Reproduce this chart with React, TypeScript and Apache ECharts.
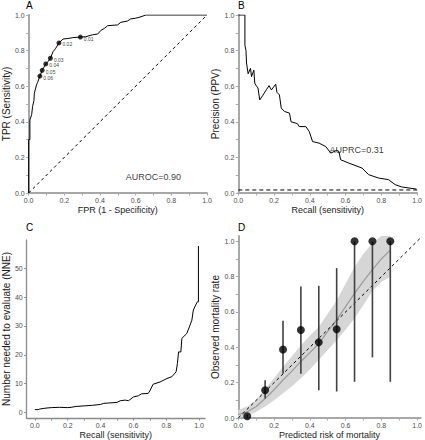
import React, { useEffect, useRef } from "react";
import * as echarts from "echarts";

// Panel A: ROC curve
const rocFpr = [0, 0, 0.007, 0.007, 0.017, 0.022, 0.03, 0.032, 0.044, 0.05, 0.063, 0.076, 0.096, 0.11, 0.122, 0.137, 0.15, 0.17, 0.193, 0.22, 0.248, 0.29, 0.32, 0.359, 0.387, 0.406, 0.425, 0.443, 0.498, 0.517, 0.554, 0.572, 0.6, 0.63, 0.657, 1];
const rocTpr = [0, 0.3, 0.3, 0.41, 0.44, 0.485, 0.52, 0.56, 0.607, 0.62, 0.657, 0.689, 0.725, 0.74, 0.757, 0.794, 0.81, 0.843, 0.865, 0.868, 0.873, 0.876, 0.878, 0.889, 0.893, 0.914, 0.925, 0.94, 0.944, 0.959, 0.966, 0.978, 0.982, 0.99, 1.0, 1.0];
const thrFpr = [0.063, 0.076, 0.096, 0.122, 0.17, 0.29];
const thrTpr = [0.657, 0.689, 0.725, 0.757, 0.843, 0.876];
const thrLabels = ["0.06", "0.05", "0.04", "0.03", "0.02", "0.01"];
const aurocText = "AUROC=0.90";

// Panel B: precision-recall curve
const prRecall = [0, 0.037, 0.037, 0.043, 0.046, 0.055, 0.068, 0.074, 0.087, 0.092, 0.102, 0.11, 0.12, 0.138, 0.157, 0.172, 0.185, 0.209, 0.216, 0.23, 0.24, 0.258, 0.286, 0.295, 0.33, 0.341, 0.378, 0.397, 0.415, 0.452, 0.489, 0.517, 0.55, 0.563, 0.572, 0.618, 0.692, 0.729, 0.784, 0.84, 0.877, 0.913, 0.996];
const prPrecision = [1, 1, 0.83, 0.8, 0.73, 0.67, 0.7, 0.654, 0.69, 0.617, 0.6, 0.59, 0.523, 0.55, 0.58, 0.603, 0.579, 0.611, 0.566, 0.551, 0.477, 0.458, 0.449, 0.4, 0.39, 0.373, 0.373, 0.345, 0.289, 0.28, 0.261, 0.224, 0.24, 0.233, 0.187, 0.168, 0.14, 0.103, 0.084, 0.075, 0.047, 0.034, 0.022];
const prevalence = 0.017;
const auprcText = "AUPRC=0.31";

// Panel C: number needed to evaluate
const nneRecall = [0, 0.02, 0.03, 0.05, 0.08, 0.1, 0.15, 0.2, 0.22, 0.25, 0.3, 0.35, 0.4, 0.42, 0.45, 0.5, 0.52, 0.55, 0.57, 0.6, 0.63, 0.65, 0.69, 0.7, 0.72, 0.763, 0.804, 0.834, 0.86, 0.868, 0.875, 0.889, 0.895, 0.925, 0.941, 0.956, 0.965, 0.976, 0.99, 0.996, 0.996];
const nneValue = [1, 1, 1.2, 1.4, 1.6, 1.7, 1.8, 1.7, 1.8, 2.1, 2.3, 2.5, 2.8, 3.2, 3.3, 3.5, 4.1, 4.3, 4.1, 5.4, 5.8, 6.5, 6.6, 7.5, 9.8, 10.6, 11.8, 12.4, 14.1, 17, 21, 21, 25.7, 27.4, 29.7, 32, 35.5, 36.9, 38.4, 38.4, 57.7];

// Panel D: calibration
const binMid = [0.05, 0.15, 0.25, 0.35, 0.45, 0.55, 0.65, 0.75, 0.85];
const binObs = [0.01, 0.157, 0.388, 0.498, 0.428, 0.502, 1.0, 1.0, 1.0];
const binLow = [0.0, 0.11, 0.25, 0.25, 0.157, 0.15, 0.205, 0.343, 0.205];
const binHigh = [0.02, 0.214, 0.551, 0.744, 0.748, 0.848, 1.0, 1.0, 1.0];
const smoothX = [0, 0.05, 0.1, 0.15, 0.2, 0.25, 0.3, 0.35, 0.4, 0.45, 0.5, 0.55, 0.6, 0.65, 0.7, 0.75, 0.8, 0.85];
const smoothFit = [0.02, 0.035, 0.065, 0.11, 0.16, 0.215, 0.265, 0.32, 0.37, 0.42, 0.49, 0.555, 0.63, 0.705, 0.775, 0.84, 0.9, 0.95];
const smoothLow = [0, 0.012, 0.035, 0.065, 0.1, 0.14, 0.18, 0.225, 0.275, 0.33, 0.385, 0.44, 0.5, 0.565, 0.64, 0.72, 0.77, 0.8];
const smoothHigh = [0.045, 0.065, 0.1, 0.165, 0.225, 0.29, 0.35, 0.41, 0.465, 0.515, 0.59, 0.665, 0.76, 0.855, 0.93, 0.99, 1.03, 1.06];

const unitTicks = [0, 0.1, 0.2, 0.3, 0.4, 0.5, 0.6, 0.7, 0.8, 0.9, 1.0];
const unitLabels = [0, 0.2, 0.4, 0.6, 0.8, 1.0];
const nneTicks = [0, 10, 20, 30, 40, 50];

const FONT = "Liberation Sans, Arial, sans-serif";
const TICK_COLOR = "#4d4d4d";

function zipXY(xs: number[], ys: number[]) {
  return xs.map((x, i) => [x, ys[i]]);
}

function axis(opts: any) {
  const { grid, min, max, name, nameGap, ticks, labels, fmt, lineColor, lineWidth, nameSize } = opts;
  return {
    type: "value",
    gridIndex: grid,
    min,
    max,
    name,
    nameLocation: "middle",
    nameGap,
    nameTextStyle: { fontFamily: FONT, fontSize: nameSize, color: "#1a1a1a" },
    splitLine: { show: false },
    axisLine: { show: true, onZero: false, lineStyle: { color: lineColor, width: lineWidth } },
    axisTick: {
      show: true,
      length: 2.5,
      customValues: ticks,
      lineStyle: { color: lineColor, width: 1 },
    },
    axisLabel: {
      customValues: labels,
      fontFamily: FONT,
      fontSize: 7,
      color: TICK_COLOR,
      margin: 4,
      formatter: fmt,
    },
  };
}

export default function App() {
  const ref = useRef<HTMLDivElement>(null);
  useEffect(() => {
    if (!ref.current) return;
    const chart = echarts.init(ref.current, null, { renderer: "svg" });
    const f1 = (v: number) => v.toFixed(1);
    const f0 = (v: number) => String(Math.round(v));
    const gray = "#a8a8a8";
    const letter = { fontFamily: FONT, fontSize: 10, fontWeight: "normal", color: "#000" };
    const option: any = {
      animation: false,
      backgroundColor: "#ffffff",
      title: [
        { text: "A", left: 26, top: 0, padding: 0, textStyle: letter },
        { text: "B", left: 238, top: 0, padding: 0, textStyle: letter },
        { text: "C", left: 26, top: 222, padding: 0, textStyle: letter },
        { text: "D", left: 238, top: 222, padding: 0, textStyle: letter },
      ],
      grid: [
        { left: 27, top: 15, width: 180, height: 178 },
        { left: 238.3, top: 15, width: 180.7, height: 178 },
        { left: 26, top: 240, width: 179, height: 178 },
        { left: 238.3, top: 236, width: 182.6, height: 182.3 },
      ],
      xAxis: [
        axis({ grid: 0, min: 0, max: 1, name: "FPR (1 - Specificity)", nameGap: 12, ticks: unitTicks, labels: unitLabels, fmt: f1, lineColor: gray, lineWidth: 2, nameSize: 9 }),
        axis({ grid: 1, min: 0, max: 1, name: "Recall (sensitivity)", nameGap: 12, ticks: unitTicks, labels: unitLabels, fmt: f1, lineColor: gray, lineWidth: 2, nameSize: 9 }),
        axis({ grid: 2, min: -0.05, max: 1.036, name: "Recall (sensitivity)", nameGap: 12, ticks: unitTicks, labels: unitLabels, fmt: f1, lineColor: "#8a8a8a", lineWidth: 1.3, nameSize: 9 }),
        axis({ grid: 3, min: 0, max: 1.02, name: "Predicted risk of mortality", nameGap: 12, ticks: unitTicks, labels: unitLabels, fmt: f1, lineColor: gray, lineWidth: 2, nameSize: 9 }),
      ],
      yAxis: [
        axis({ grid: 0, min: 0, max: 1, name: "TPR (Sensitivity)", nameGap: 16, ticks: unitTicks, labels: unitLabels, fmt: f1, lineColor: gray, lineWidth: 2, nameSize: 10 }),
        axis({ grid: 1, min: 0, max: 1, name: "Precision (PPV)", nameGap: 16, ticks: unitTicks, labels: unitLabels, fmt: f1, lineColor: gray, lineWidth: 2, nameSize: 10 }),
        axis({ grid: 2, min: -1.9, max: 59.8, name: "Number needed to evaluate (NNE)", nameGap: 13, ticks: nneTicks, labels: nneTicks, fmt: f0, lineColor: "#8a8a8a", lineWidth: 1.3, nameSize: 10 }),
        axis({ grid: 3, min: 0, max: 1.03, name: "Observed mortality rate", nameGap: 16, ticks: unitTicks, labels: unitLabels, fmt: f1, lineColor: gray, lineWidth: 2, nameSize: 10 }),
      ],
      series: [
        // A
        {
          type: "line", xAxisIndex: 0, yAxisIndex: 0, data: [[0, 0], [1, 1]], symbol: "none",
          lineStyle: { color: "#000", width: 1, type: [3, 3] }, z: 2,
        },
        {
          type: "line", xAxisIndex: 0, yAxisIndex: 0, data: zipXY(rocFpr, rocTpr), symbol: "none",
          lineStyle: { color: "#000", width: 1 }, z: 3,
        },
        {
          type: "scatter", xAxisIndex: 0, yAxisIndex: 0, symbolSize: 5,
          itemStyle: { color: "#000" }, z: 4,
          data: thrFpr.map((x, i) => ({ value: [x, thrTpr[i]], name: thrLabels[i] })),
          label: {
            show: true, position: "right", distance: 1, offset: [0, 1.5], formatter: "{b}",
            fontFamily: FONT, fontSize: 5, color: "#000",
          },
        },
        {
          type: "scatter", xAxisIndex: 0, yAxisIndex: 0, symbolSize: 0,
          data: [{ value: [0.544, 0.09], name: aurocText }],
          label: { show: true, position: "right", distance: 0, formatter: "{b}", fontFamily: FONT, fontSize: 9, color: "#000" },
        },
        // B
        {
          type: "line", xAxisIndex: 1, yAxisIndex: 1, data: [[0, prevalence], [1, prevalence]], symbol: "none",
          lineStyle: { color: "#000", width: 1, type: [4, 3] }, z: 2,
        },
        {
          type: "line", xAxisIndex: 1, yAxisIndex: 1, data: zipXY(prRecall, prPrecision), symbol: "none",
          lineStyle: { color: "#000", width: 1 }, z: 3,
        },
        {
          type: "scatter", xAxisIndex: 1, yAxisIndex: 1, symbolSize: 0,
          data: [{ value: [0.51, 0.24], name: auprcText }],
          label: { show: true, position: "right", distance: 0, formatter: "{b}", fontFamily: FONT, fontSize: 9, color: "#000" },
          z: 5,
        },
        // C
        {
          type: "line", xAxisIndex: 2, yAxisIndex: 2, data: zipXY(nneRecall, nneValue), symbol: "none",
          lineStyle: { color: "#000", width: 1 },
        },
        // D confidence band as polygon through the axis scales
        {
          type: "custom", xAxisIndex: 3, yAxisIndex: 3, z: 1, clip: true,
          data: smoothX.map((x, i) => [x, smoothLow[i], smoothHigh[i]]),
          renderItem: (params: any, api: any) => {
            if (params.dataIndex !== 0) return null;
            const upper = smoothX.map((x, i) => api.coord([x, smoothHigh[i]]));
            const lower = smoothX.map((x, i) => api.coord([x, smoothLow[i]])).reverse();
            return {
              type: "polygon",
              shape: { points: upper.concat(lower) },
              style: { fill: "#d6d6d6", stroke: "none" },
            };
          },
        },
        {
          type: "line", xAxisIndex: 3, yAxisIndex: 3, data: zipXY(smoothX, smoothFit), symbol: "none",
          lineStyle: { color: "#9a9a9a", width: 1.2 }, z: 2,
        },
        {
          type: "line", xAxisIndex: 3, yAxisIndex: 3, data: [[0, 0], [1.03, 1.03]], symbol: "none",
          lineStyle: { color: "#000", width: 1, type: [3, 3] }, z: 3,
        },
        {
          type: "custom", xAxisIndex: 3, yAxisIndex: 3, z: 4,
          data: binMid.map((x, i) => [x, binLow[i], binHigh[i]]),
          renderItem: (params: any, api: any) => {
            const p1 = api.coord([api.value(0), api.value(1)]);
            const p2 = api.coord([api.value(0), api.value(2)]);
            return {
              type: "line",
              shape: { x1: p1[0], y1: p1[1], x2: p2[0], y2: p2[1] },
              style: { stroke: "#404040", lineWidth: 1.6 },
            };
          },
        },
        {
          type: "scatter", xAxisIndex: 3, yAxisIndex: 3, symbolSize: 8, z: 5,
          data: zipXY(binMid, binObs), itemStyle: { color: "#000" },
        },
      ],
    };
    chart.setOption(option);
    return () => chart.dispose();
  }, []);
  return <div ref={ref} style={{ position: "fixed", left: 0, top: 0, width: 425, height: 440 }} />;
}
